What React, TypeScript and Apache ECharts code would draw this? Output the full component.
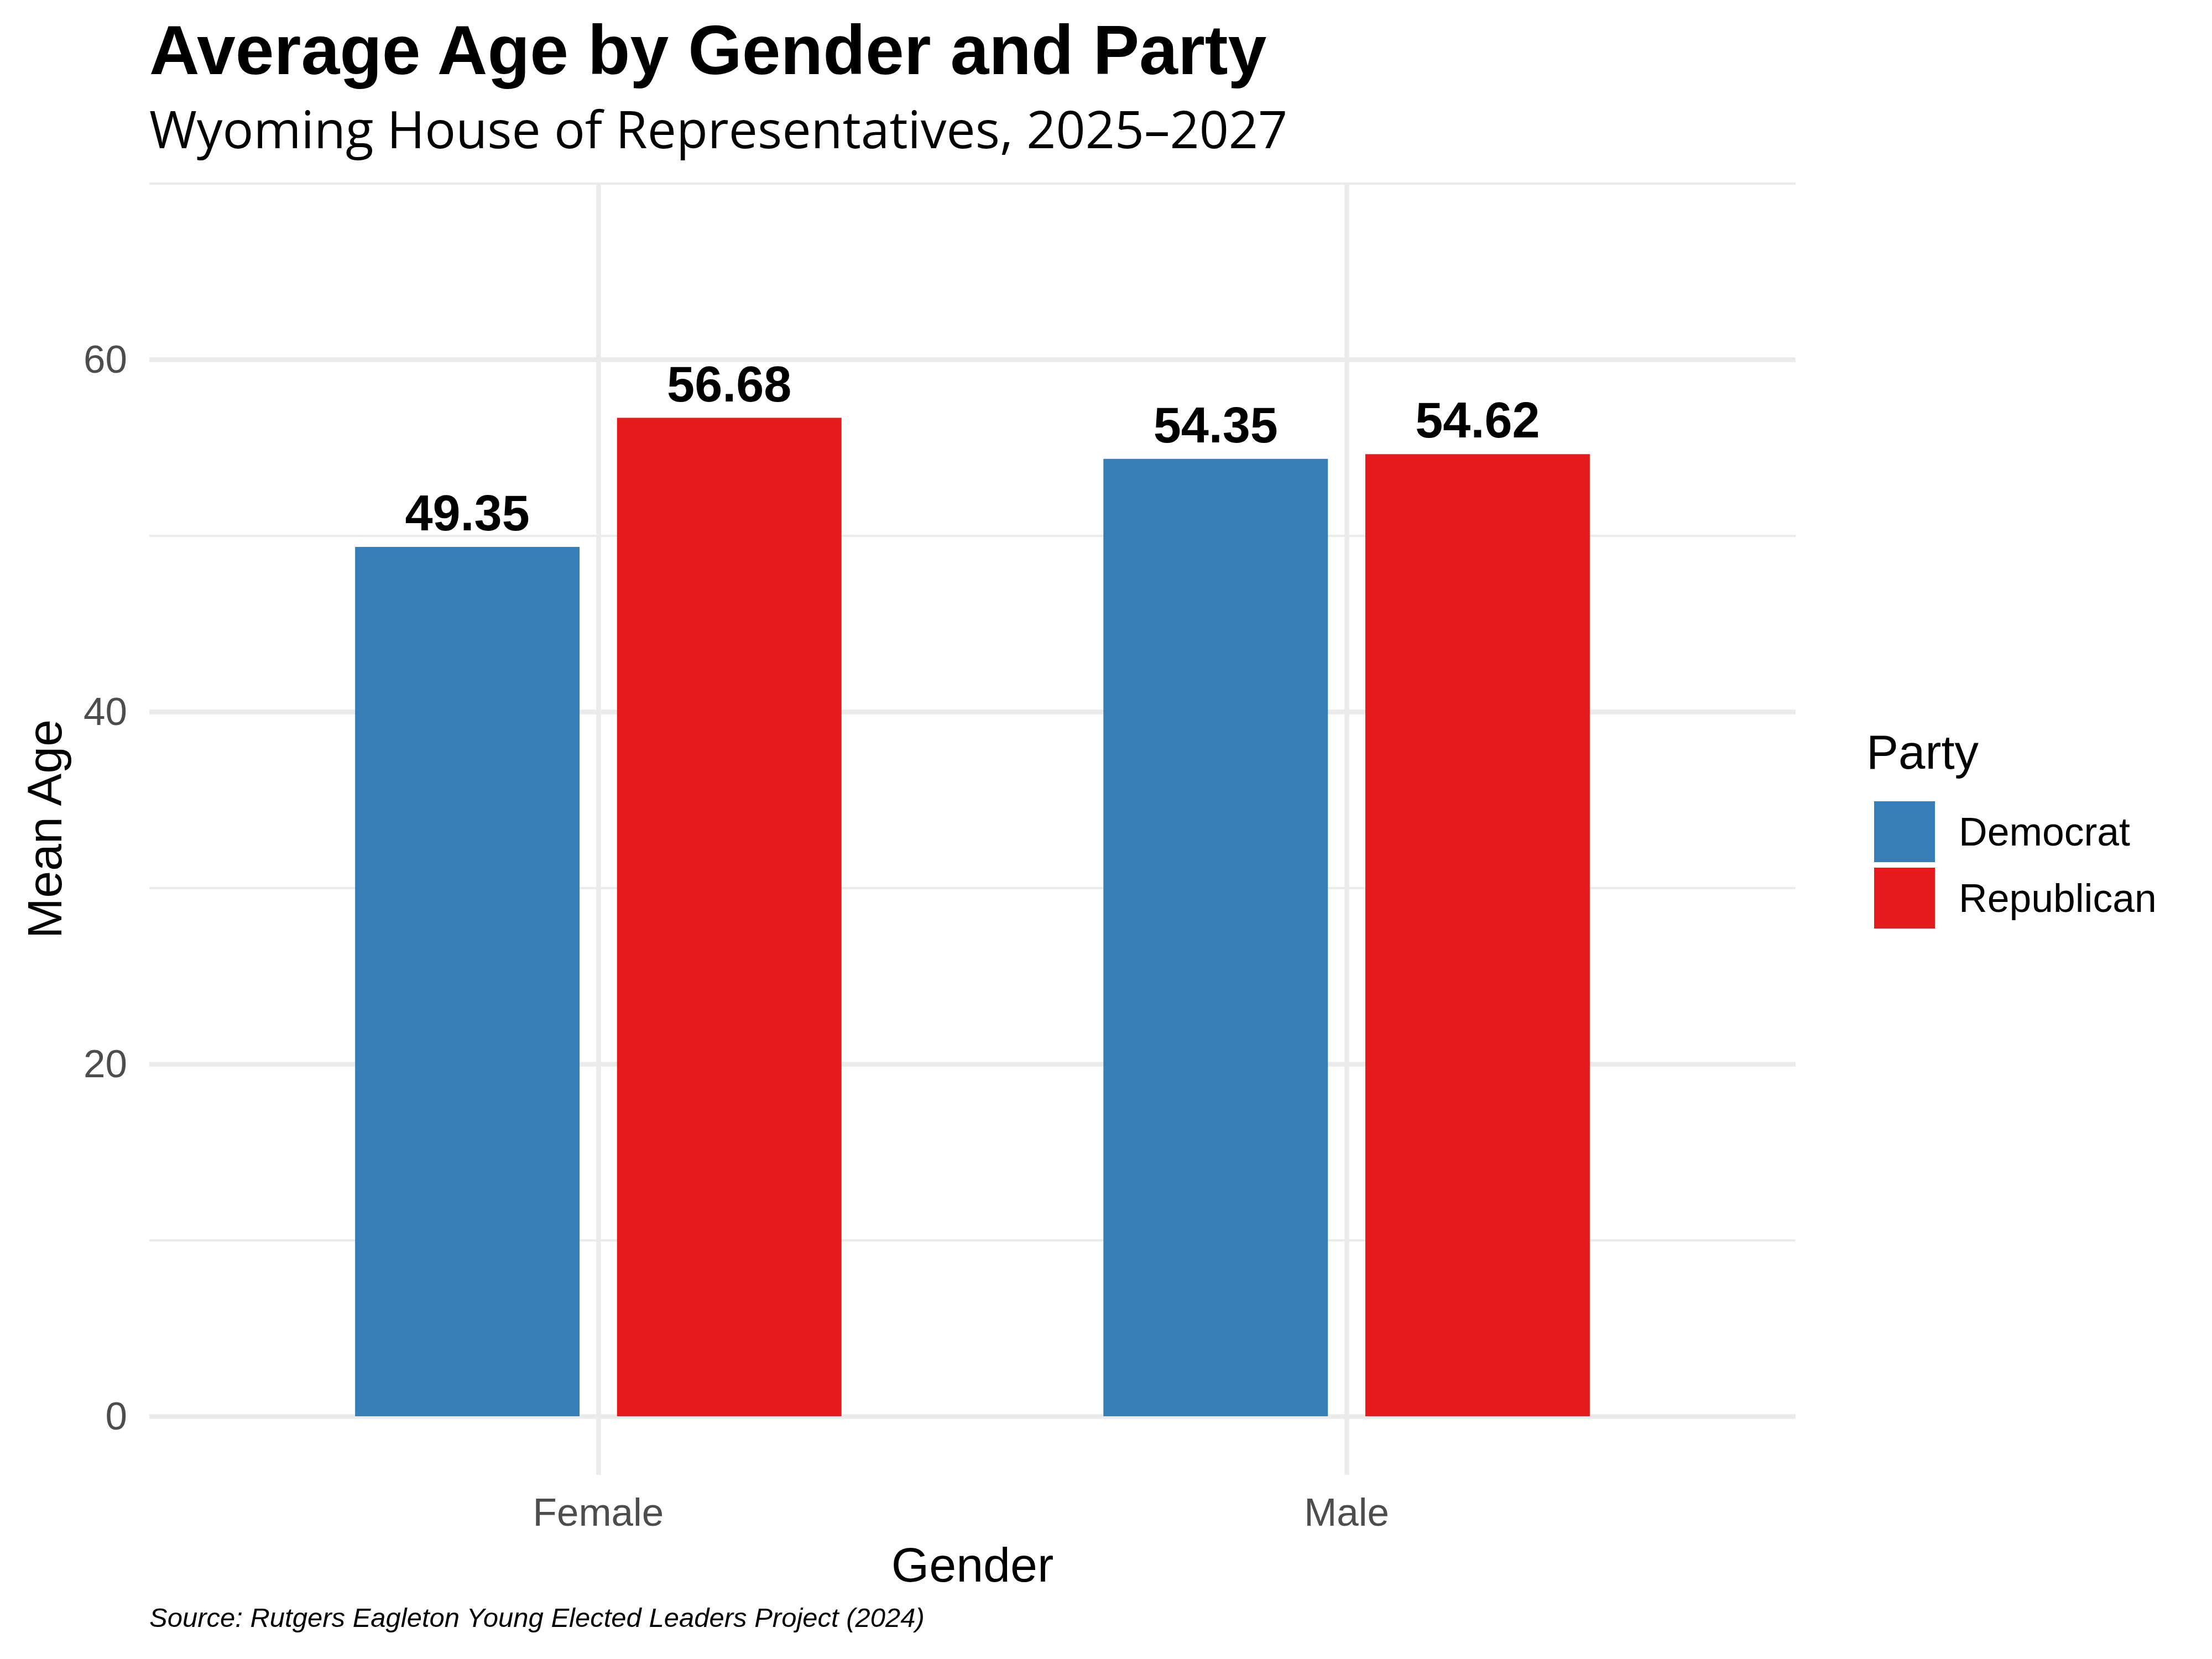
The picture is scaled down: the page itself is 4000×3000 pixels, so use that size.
import React, { useEffect, useRef } from "react";
import * as echarts from "echarts";

const genders = ["Female", "Male"];
const genderPositions = [1, 2];
const democratAges = [49.35, 54.35];
const republicanAges = [56.68, 54.62];
const majorTicks = [0, 20, 40, 60];
const minorTicks = [10, 30, 50, 70];

const SANS = "Liberation Sans, Arial, sans-serif";
const GRID = "#EBEBEB";

const App = () => {
	const chartRef = useRef<HTMLDivElement>(null);

	useEffect(() => {
		document.body.style.margin = "0";
		if (!chartRef.current) return;
		const chart = echarts.init(chartRef.current, null, { renderer: "svg" });

		const yRange = { min: -3.33, max: 70.01 };

		const option = {
			animation: false,
			backgroundColor: "#FFFFFF",
			title: [
				{
					text: "Average Age by Gender and Party",
					left: 270,
					top: 27,
					padding: 0,
					textStyle: { fontFamily: SANS, fontSize: 125.5, fontWeight: "bold", color: "#000000" },
				},
				{
					text: "Wyoming House of Representatives, 2025–2027",
					left: 270,
					top: 185,
					padding: 0,
					textStyle: { fontFamily: "Open Sans", fontSize: 93, fontWeight: "normal", color: "#000000" },
				},
				{
					text: "Party",
					left: 3375,
					top: 1316,
					padding: 0,
					textStyle: { fontFamily: SANS, fontSize: 87, fontWeight: "normal", color: "#000000" },
				},
				{
					text: "Source: Rutgers Eagleton Young Elected Leaders Project (2024)",
					left: 270,
					top: 2900,
					padding: 0,
					textStyle: { fontFamily: SANS, fontSize: 49, fontStyle: "italic", fontWeight: "normal", color: "#000000" },
				},
			],
			legend: {
				orient: "vertical",
				left: 3389,
				top: 1449,
				padding: 0,
				itemWidth: 110,
				itemHeight: 110,
				itemGap: 10,
				icon: "rect",
				data: ["Democrat", "Republican"],
				textStyle: { fontFamily: SANS, fontSize: 71.5, color: "#000000", padding: [0, 0, 0, 38] },
			},
			grid: { left: 270, right: 753, top: 331, bottom: 333, containLabel: false, outerBoundsMode: "none" },
			xAxis: {
				type: "value",
				min: 0.4,
				max: 2.6,
				name: "Gender",
				nameLocation: "middle",
				nameGap: 118,
				nameTextStyle: { fontFamily: SANS, fontSize: 88, color: "#000000" },
				axisLine: { show: false },
				axisTick: { show: false, customValues: genderPositions },
				axisLabel: {
					customValues: genderPositions,
					margin: 32,
					fontFamily: SANS,
					fontSize: 71,
					color: "#4D4D4D",
					formatter: (v: number) => genders[Math.round(v) - 1] ?? "",
				},
				splitLine: { show: true, lineStyle: { color: GRID, width: 8.5 } },
			},
			yAxis: [
				{
					type: "value",
					...yRange,
					name: "Mean Age",
					nameLocation: "middle",
					nameRotate: 90,
					nameGap: 146,
					nameTextStyle: { fontFamily: SANS, fontSize: 88, color: "#000000" },
					axisLine: { show: false },
					axisTick: { show: false, customValues: majorTicks },
					axisLabel: {
						customValues: majorTicks,
						margin: 40,
						fontFamily: SANS,
						fontSize: 71,
						color: "#4D4D4D",
					},
					splitLine: { show: true, lineStyle: { color: GRID, width: 8.5 } },
				},
				{
					type: "value",
					...yRange,
					position: "left",
					axisLine: { show: false },
					axisTick: { show: false, customValues: minorTicks },
					axisLabel: { show: false, customValues: minorTicks },
					splitLine: { show: true, lineStyle: { color: GRID, width: 4.2 } },
				},
			],
			series: [
				{
					name: "Democrat",
					type: "bar",
					yAxisIndex: 0,
					barWidth: "30%",
					barGap: "16.67%",
					itemStyle: { color: "#377EB8" },
					data: genderPositions.map((x, i) => [x, democratAges[i]]),
					label: {
						show: true,
						position: "top",
						distance: 16,
						fontFamily: SANS,
						fontSize: 90,
						fontWeight: "bold",
						color: "#000000",
						formatter: (p: any) => p.value[1].toFixed(2),
					},
				},
				{
					name: "Republican",
					type: "bar",
					yAxisIndex: 0,
					barWidth: "30%",
					barGap: "16.67%",
					itemStyle: { color: "#E41A1C" },
					data: genderPositions.map((x, i) => [x, republicanAges[i]]),
					label: {
						show: true,
						position: "top",
						distance: 16,
						fontFamily: SANS,
						fontSize: 90,
						fontWeight: "bold",
						color: "#000000",
						formatter: (p: any) => p.value[1].toFixed(2),
					},
				},
			],
		};

		chart.setOption(option);

		return () => {
			chart.dispose();
		};
	}, []);

	return <div ref={chartRef} style={{ width: "4000px", height: "3000px" }} />;
};

export default App;
